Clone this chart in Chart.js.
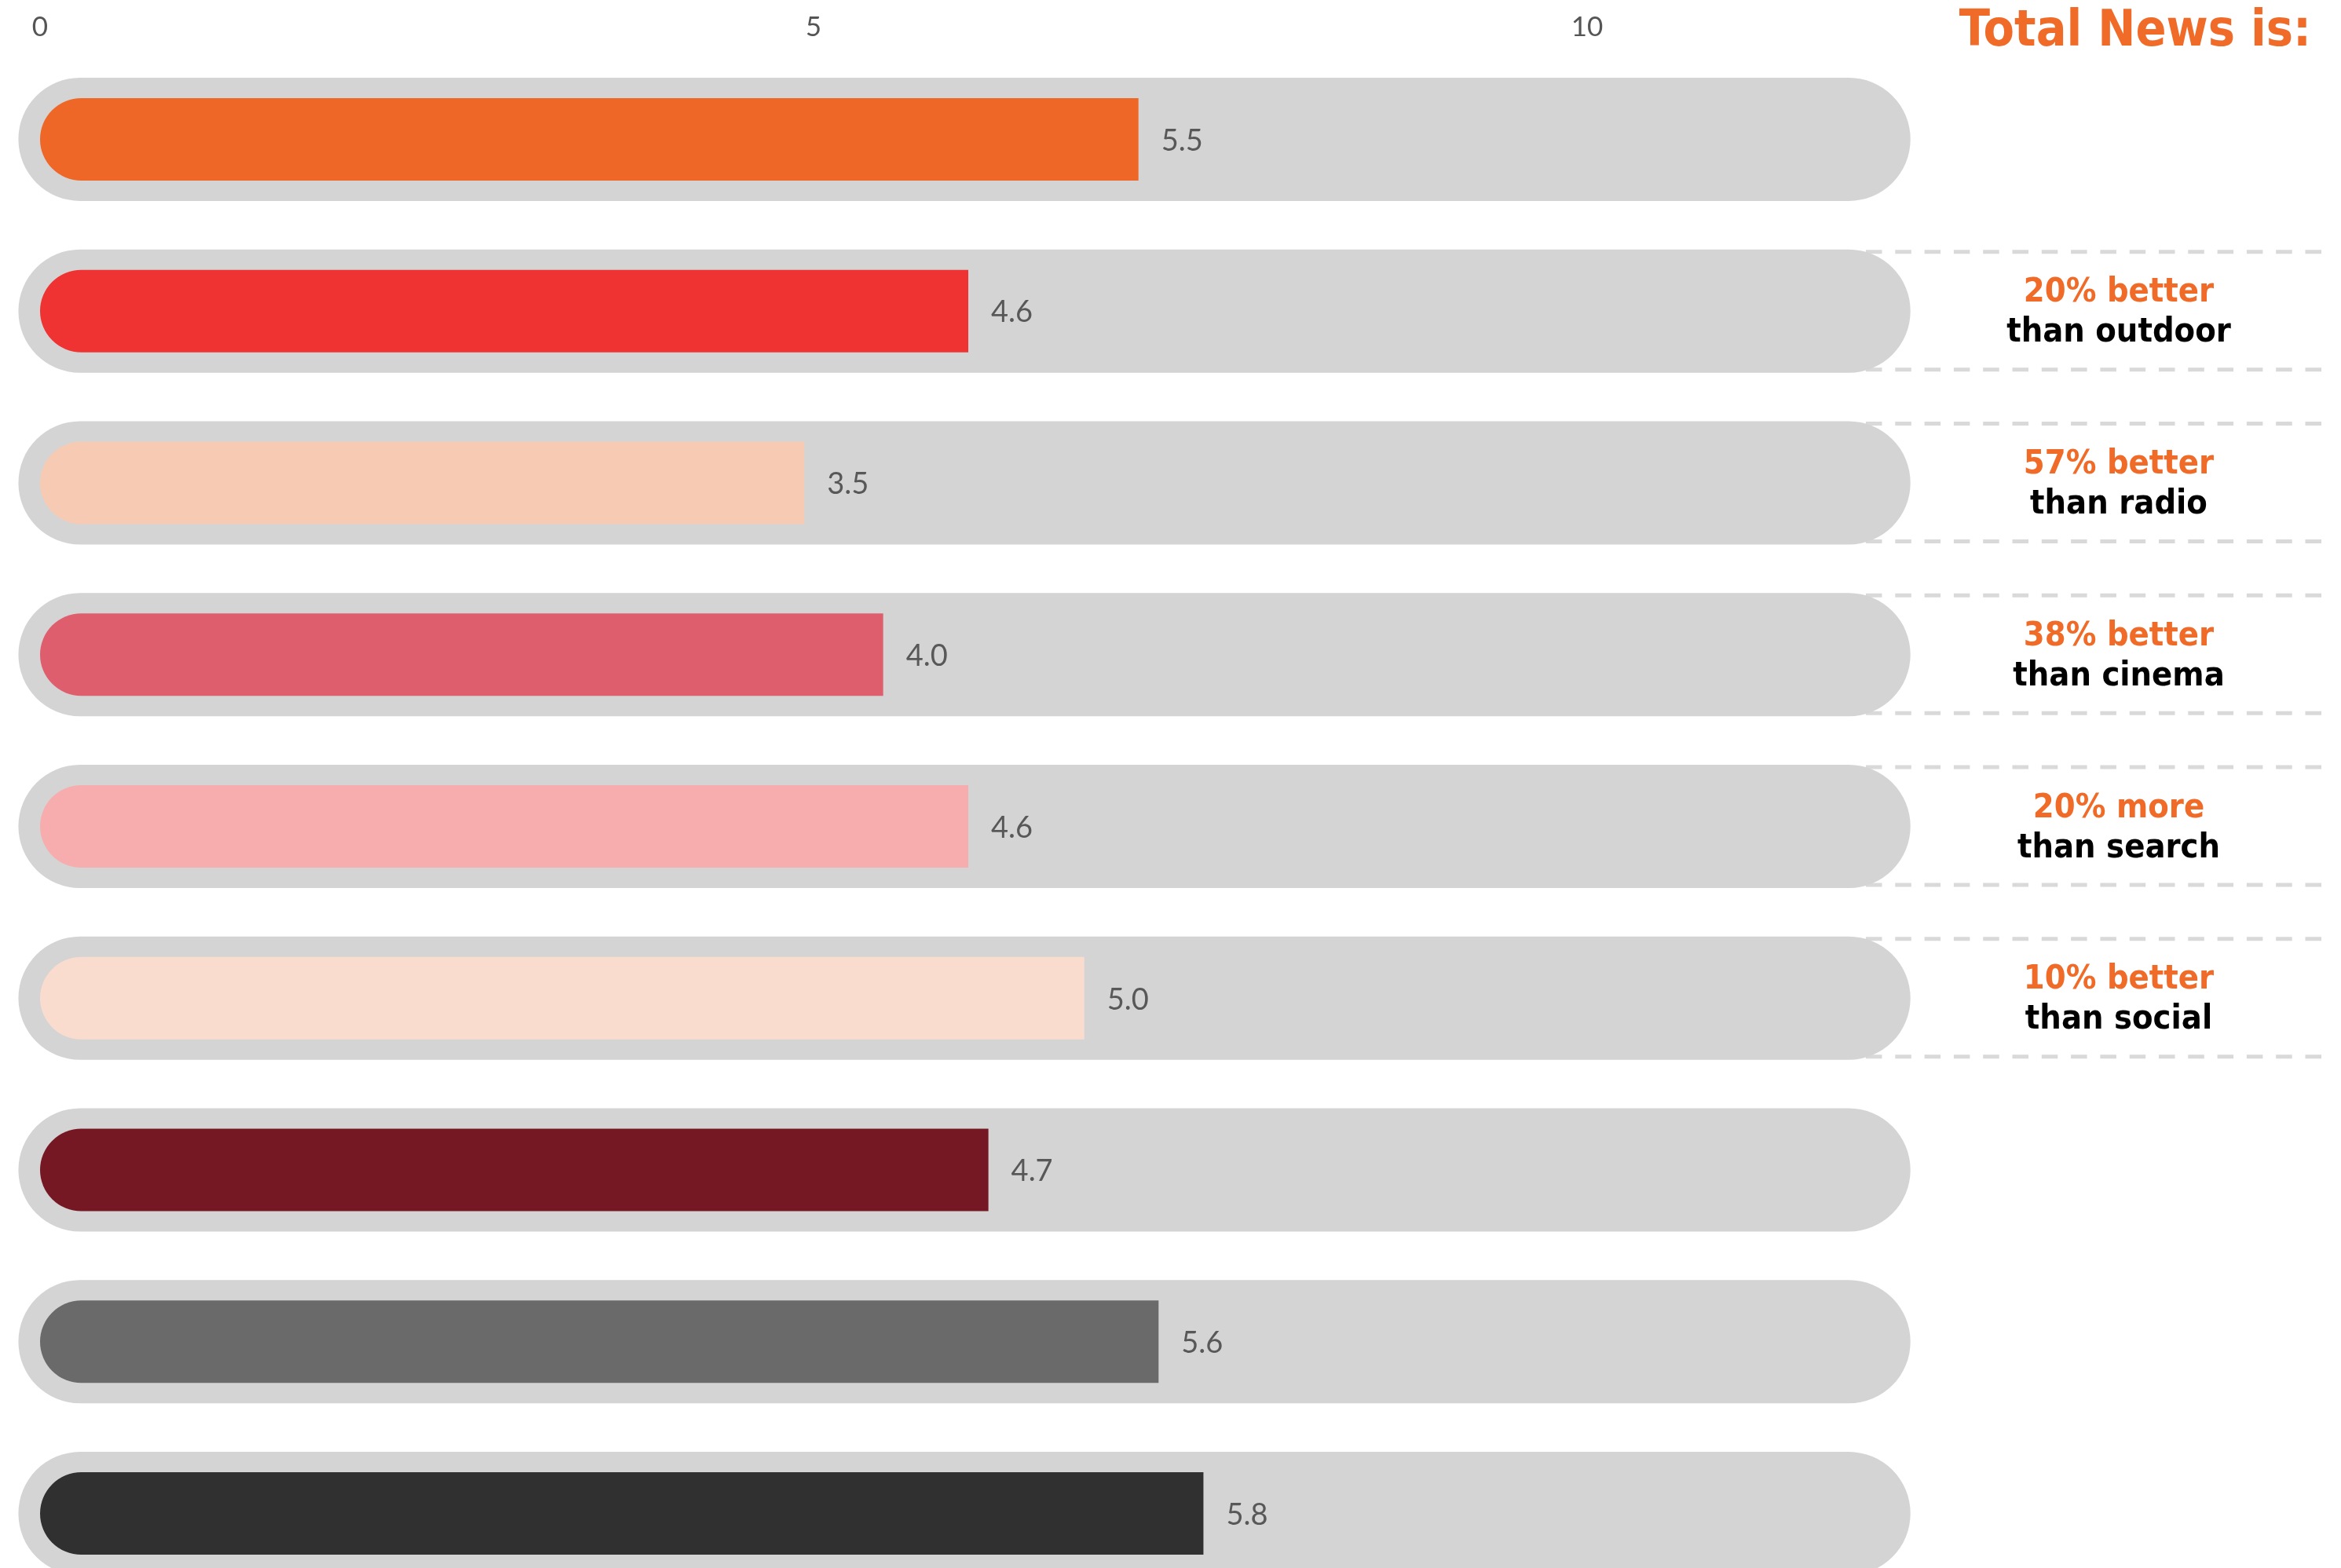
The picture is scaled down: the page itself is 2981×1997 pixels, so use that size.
<!DOCTYPE html>
<html>
<head>
<meta charset="utf-8">
<script src="https://cdn.jsdelivr.net/npm/chart.js@4.4.1/dist/chart.umd.min.js"></script>
<style>
  html, body { margin: 0; padding: 0; background: #ffffff; overflow: hidden; }
  canvas { display: block; }
</style>
</head>
<body>
<canvas id="c" width="2981" height="2037"></canvas>
<script>
// ---- data ----
const categories = ['Total News', 'Outdoor', 'Radio', 'Cinema', 'Search', 'Social', 'Row 7', 'Row 8', 'Row 9'];
// bar lengths as read against the top axis
const barLengths = [7.10, 6.00, 4.94, 5.45, 6.00, 6.75, 6.13, 7.23, 7.52];
// printed value labels
const valueLabels = ['5.5', '4.6', '3.5', '4.0', '4.6', '5.0', '4.7', '5.6', '5.8'];
const barColors = ['#ee6726', '#ef3333', '#f7cab4', '#df5e6e', '#f7adad', '#fadccf', '#761823', '#6a6a6a', '#303030'];
// background track (start, end) on the same axis
const trackStart = -0.14;
const trackEnd = 12.09;
const axisTicks = [0, 5, 10];
const titleText = 'Total News is:';
const annoHighlight = [null, '20% better', '57% better', '38% better', '20% more', '10% better', null, null, null];
const annoText = [null, 'than outdoor', 'than radio', 'than cinema', 'than search', 'than social', null, null, null];

const ORANGE = '#f06a28';
const TRACK = '#d4d4d4';
const DASH = '#d9d9d9';
const TEXTFONT = "'DejaVu Sans Condensed', 'DejaVu Sans', sans-serif";

const annotationPlugin = {
  id: 'annotations',
  beforeDatasetsDraw(chart) {
    const ctx = chart.ctx;
    const trackMeta = chart.getDatasetMeta(1);
    ctx.save();
    ctx.strokeStyle = DASH;
    ctx.lineWidth = 5;
    ctx.setLineDash([20.5, 16.8]);
    categories.forEach((c, i) => {
      if (!annoHighlight[i]) return;
      const el = trackMeta.data[i];
      const half = el.height / 2;
      [el.y - half + 3, el.y + half - 4].forEach(y => {
        ctx.beginPath();
        ctx.moveTo(2376, y);
        ctx.lineTo(2957, y);
        ctx.stroke();
      });
    });
    ctx.restore();
  },
  afterDatasetsDraw(chart) {
    const ctx = chart.ctx;
    const meta = chart.getDatasetMeta(0);
    ctx.save();
    ctx.font = "38px Lato, 'Open Sans', sans-serif";
    ctx.fillStyle = '#585858';
    ctx.textBaseline = 'middle';
    ctx.textAlign = 'left';
    meta.data.forEach((el, i) => {
      ctx.fillText(valueLabels[i], el.x + 29, el.y + 2);
    });
    ctx.restore();
  },
  afterDraw(chart) {
    const ctx = chart.ctx;
    const ys = chart.scales.y;
    ctx.save();
    ctx.textBaseline = 'alphabetic';
    ctx.fillStyle = ORANGE;
    ctx.textAlign = 'right';
    ctx.font = 'bold 64px ' + TEXTFONT;
    ctx.fillText(titleText, 2943, 58);
    ctx.textAlign = 'center';
    categories.forEach((c, i) => {
      if (!annoHighlight[i]) return;
      const y = ys.getPixelForValue(i);
      ctx.font = 'bold 43px ' + TEXTFONT;
      ctx.fillStyle = ORANGE;
      ctx.fillText(annoHighlight[i], 2698, y - 12);
      ctx.fillStyle = '#000000';
      ctx.fillText(annoText[i], 2698, y + 39);
    });
    ctx.restore();
  }
};

new Chart(document.getElementById('c'), {
  type: 'bar',
  data: {
    labels: categories,
    datasets: [
      {
        label: 'value',
        data: barLengths,
        backgroundColor: barColors,
        borderWidth: 0,
        borderSkipped: false,
        borderRadius: { topLeft: 60, bottomLeft: 60, topRight: 0, bottomRight: 0 },
        barPercentage: 0.48,
        categoryPercentage: 1,
        grouped: false,
        order: 0
      },
      {
        label: 'track',
        data: categories.map(() => [trackStart, trackEnd]),
        backgroundColor: TRACK,
        borderWidth: 0,
        borderSkipped: false,
        borderRadius: 200,
        barPercentage: 0.7175,
        categoryPercentage: 1,
        grouped: false,
        order: 1
      }
    ]
  },
  options: {
    indexAxis: 'y',
    responsive: false,
    animation: false,
    devicePixelRatio: 1,
    layout: { padding: { top: 14, left: 21.45, right: 546.3, bottom: 0 } },
    plugins: { legend: { display: false }, tooltip: { enabled: false }, title: { display: false } },
    scales: {
      x: {
        position: 'top',
        min: -0.15,
        max: 12.1,
        grid: { display: false, drawTicks: false },
        border: { display: false },
        ticks: {
          stepSize: 5,
          padding: 12,
          color: '#555555',
          font: { family: "Lato, 'Open Sans', sans-serif", size: 35 }
        },
        afterBuildTicks: s => { s.ticks = axisTicks.map(v => ({ value: v })); },
        afterFit: s => { s.height = 54; }
      },
      y: { display: false }
    }
  },
  plugins: [annotationPlugin]
});
</script>
</body>
</html>
